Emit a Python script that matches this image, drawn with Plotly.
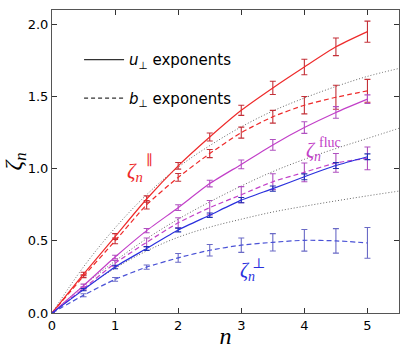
import plotly.graph_objects as go

n = [0, 0.5, 1, 1.5, 2, 2.5, 3, 3.5, 4, 4.5, 5]

# u_perp exponents (solid)
u_par = [0, 0.27, 0.53, 0.79, 1.02, 1.22, 1.405, 1.56, 1.705, 1.845, 1.95]
u_par_err = [0, 0.012, 0.02, 0.022, 0.023, 0.028, 0.035, 0.046, 0.054, 0.061, 0.073]
u_fluc = [0, 0.19, 0.388, 0.571, 0.73, 0.897, 1.03, 1.165, 1.285, 1.39, 1.482]
u_fluc_err = [0, 0.01, 0.012, 0.015, 0.02, 0.023, 0.03, 0.037, 0.04, 0.04, 0.03]
u_perp = [0, 0.162, 0.319, 0.447, 0.575, 0.678, 0.782, 0.862, 0.944, 1.022, 1.083]
u_perp_err = [0, 0.008, 0.012, 0.013, 0.013, 0.015, 0.018, 0.018, 0.02, 0.02, 0.02]

# b_perp exponents (dashed)
b_par = [0, 0.255, 0.50, 0.75, 0.94, 1.105, 1.25, 1.36, 1.44, 1.495, 1.54]
b_par_err = [0, 0.01, 0.02, 0.029, 0.027, 0.028, 0.038, 0.044, 0.06, 0.083, 0.079]
b_fluc = [0, 0.17, 0.345, 0.49, 0.625, 0.73, 0.82, 0.91, 0.975, 1.04, 1.072]
b_fluc_err = [0, 0.01, 0.02, 0.03, 0.035, 0.05, 0.056, 0.055, 0.065, 0.065, 0.079]
b_perp = [0, 0.123, 0.233, 0.318, 0.382, 0.435, 0.47, 0.49, 0.504, 0.50, 0.486]
b_perp_err = [0, 0.01, 0.013, 0.015, 0.03, 0.04, 0.05, 0.06, 0.075, 0.085, 0.107]

# dotted model curves
n_model = [0, 0.5, 1, 1.5, 2, 2.5, 3, 3.5, 4, 4.5, 5, 5.5]
model_top = [0, 0.32, 0.59, 0.82, 1.01, 1.16, 1.29, 1.40, 1.49, 1.57, 1.64, 1.695]
model_mid = [0, 0.19, 0.36, 0.515, 0.65, 0.77, 0.88, 0.98, 1.065, 1.14, 1.21, 1.28]
model_bot = [0, 0.165, 0.31, 0.43, 0.525, 0.595, 0.65, 0.70, 0.74, 0.777, 0.812, 0.845]

x_ticks = [0, 1, 2, 3, 4, 5]
y_ticks = [0.0, 0.5, 1.0, 1.5, 2.0]
y_tick_text = ["0.0", "0.5", "1.0", "1.5", "2.0"]

RED = "#ee2a2a"
RED_E = "#c43038"
MAG = "#c23fc8"
MAG_E = "#b050c0"
BLUE = "#2a30dd"
BLUE_E = "#2030b0"
BLUE_D = "#4a52d6"
BLUE_DE = "#6a6ac6"

fig = go.Figure()

for ym in (model_top, model_mid, model_bot):
    fig.add_trace(go.Scatter(x=n_model, y=ym, mode="lines", line=dict(color="#666666", width=1, dash="1px,2px", shape="spline"),
                             showlegend=False, hoverinfo="skip"))

series = [
    (b_par, b_par_err, RED, RED_E, "5px,3px"),
    (b_fluc, b_fluc_err, MAG, MAG_E, "5px,3px"),
    (b_perp, b_perp_err, BLUE_D, BLUE_DE, "5px,3px"),
    (u_par, u_par_err, RED, RED_E, "solid"),
    (u_fluc, u_fluc_err, MAG, MAG_E, "solid"),
    (u_perp, u_perp_err, BLUE, BLUE_E, "solid"),
]
for ys, es, c, ce, d in series:
    fig.add_trace(go.Scatter(
        x=n, y=ys, mode="lines",
        line=dict(color=c, width=1.2, dash=d, shape="spline", smoothing=0.6),
        error_y=dict(type="data", array=es, visible=True, color=ce, thickness=1.1, width=3),
        showlegend=False))

# legend entries
fig.add_trace(go.Scatter(x=[None], y=[None], mode="lines", line=dict(color="#333333", width=1.2),
                         name="<i>u</i><sub>⊥</sub> exponents", legendgroup="a"))
fig.add_trace(go.Scatter(x=[None], y=[None], mode="lines", line=dict(color="#333333", width=1.2, dash="4px,3px"),
                         name="<i>b</i><sub>⊥</sub> exponents", legendgroup="b"))

serif = "Liberation Serif, DejaVu Serif, serif"
# series labels
fig.add_annotation(x=1.32, y=0.98, text="<i>ζ<sub>n</sub></i>", showarrow=False, font=dict(family=serif, size=21, color=RED))
fig.add_annotation(x=1.53, y=1.06, text="∥", showarrow=False, font=dict(family=serif, size=14, color=RED))
fig.add_annotation(x=4.14, y=1.12, text="<i>ζ<sub>n</sub></i>", showarrow=False, font=dict(family=serif, size=20, color=MAG))
fig.add_annotation(x=4.41, y=1.18, text="fluc", showarrow=False, font=dict(family=serif, size=14, color=MAG))
fig.add_annotation(x=3.1, y=0.29, text="<i>ζ<sub>n</sub></i>", showarrow=False, font=dict(family=serif, size=20, color=BLUE))
fig.add_annotation(x=3.28, y=0.345, text="⊥", showarrow=False, font=dict(family=serif, size=14, color=BLUE))

axis_common = dict(showline=True, linecolor="#555555", linewidth=1, mirror="ticks", ticks="inside", ticklen=5,
                   tickcolor="#333333", showgrid=False, zeroline=False, automargin=False,
                   tickfont=dict(family="DejaVu Sans", size=13, color="black"))

fig.update_layout(
    width=407, height=349,
    margin=dict(l=52, r=8, t=10, b=36),
    paper_bgcolor="white", plot_bgcolor="white",
    xaxis=dict(range=[0, 5.5], tickvals=x_ticks, **axis_common,
               title=dict(text="<i>n</i>", font=dict(family=serif, size=24, color="black"), standoff=0)),
    yaxis=dict(range=[0, 2.1], tickvals=y_ticks, ticktext=y_tick_text, **axis_common,
               title=dict(text="<i>ζ<sub>n</sub></i>", font=dict(family=serif, size=24, color="black"), standoff=0)),
    legend=dict(x=0.078, y=0.89, xanchor="left", yanchor="top", bgcolor="rgba(0,0,0,0)",
                font=dict(family="DejaVu Sans", size=15, color="black"), tracegroupgap=16, traceorder="grouped",
                itemwidth=40),
)

fig.write_html("out.html", config={"displayModeBar": False},
               post_script="document.body.style.margin='0';document.body.style.padding='0';document.body.style.overflow='hidden';")
